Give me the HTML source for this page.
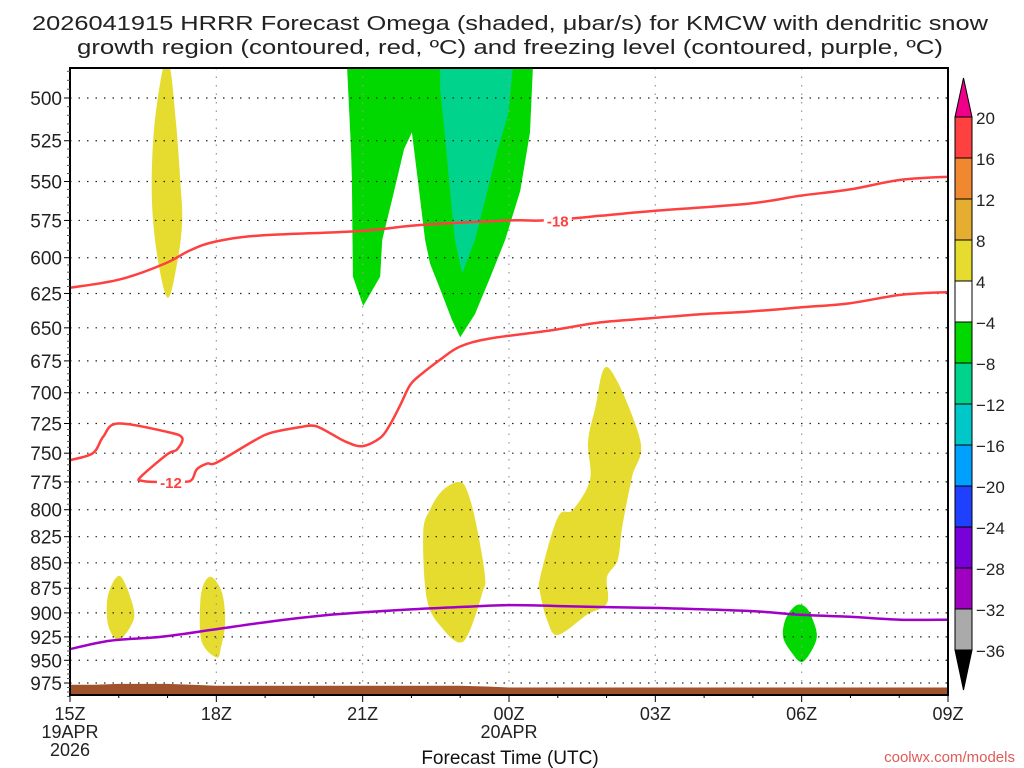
<!DOCTYPE html>
<html><head><meta charset="utf-8"><style>
html,body{margin:0;padding:0;background:#fff;}
svg{display:block;font-family:"Liberation Sans",sans-serif;}
</style></head><body>
<svg id="chart" width="1024" height="768" viewBox="0 0 1024 768">
<rect width="1024" height="768" fill="#fff"/>
<text x="510" y="30" text-anchor="middle" font-size="20" textLength="956" lengthAdjust="spacingAndGlyphs" fill="#222">2026041915 HRRR Forecast Omega (shaded, μbar/s) for KMCW with dendritic snow</text>
<text x="510" y="54" text-anchor="middle" font-size="20" textLength="866" lengthAdjust="spacingAndGlyphs" fill="#222">growth region (contoured, red, ºC) and freezing level (contoured, purple, ºC)</text>
<g id="plot"></g>
<text x="510" y="764" text-anchor="middle" font-size="19" fill="#111">Forecast Time (UTC)</text>
<text x="1015" y="762" text-anchor="end" font-size="15" fill="#e05a5a">coolwx.com/models</text>
<g id="cbar"></g>
</svg>
<script>
// ---- data ----
const pLevels=[500,525,550,575,600,625,650,675,700,725,750,775,800,825,850,875,900,925,950,975];
const xTickHours=[0,3,6,9,12,15,18];
const xTickLabels=["15Z","18Z","21Z","00Z","03Z","06Z","09Z"];
const cbarLabels=["20","16","12","8","4","−4","−8","−12","−16","−20","−24","−28","−32","−36"];
const cbarColors=["#ff4040","#f08830","#e6ae30","#e6dc30","#ffffff","#00d800","#00d48c","#00c8c8","#00a0ff","#2040ff","#7800d8","#a000c0","#aaaaaa"];
const greenBig=[[5.68,483],[5.76,530],[5.78,549],[5.80,613],[6.01,634],[6.36,613],[6.40,588],[6.60,562],[6.85,530],[7.01,520],[7.13,549],[7.28,588],[7.38,604],[7.59,622],[7.83,644],[8.0,657],[8.30,640],[8.61,614],[8.92,588],[9.23,556],[9.43,520],[9.49,483]];
const tealBig=[[7.59,483],[9.08,483],[8.98,510],[8.77,530],[8.51,562],[8.30,588],[8.04,611],[7.89,588],[7.79,556],[7.69,523],[7.59,495]];
const green06=[[14.9,892],[15.1,895],[15.25,910],[15.31,925],[15.2,940],[15.0,952],[14.8,942],[14.62,925],[14.68,905]];
const yellowA=[[1.91,483],[2.05,483],[2.17,513],[2.26,549],[2.30,575],[2.21,601],[2.01,628],[1.80,601],[1.68,562],[1.72,519]];
const yellowB=[[7.99,775],[8.16,785],[8.34,816],[8.51,864],[8.45,880],[8.20,918],[7.99,931],[7.65,917],[7.32,887],[7.24,822],[7.38,800],[7.65,782]];
const yellowC=[[11.03,680],[11.69,739],[11.52,771],[11.32,816],[11.23,847],[11.01,864],[11.01,890],[10.60,902],[10.0,923],[9.78,907],[9.64,880],[9.64,864],[10.0,807],[10.31,800],[10.66,773],[10.62,741],[10.76,714]];
const yellowD=[[1.03,863],[1.31,897],[1.23,915],[0.98,928],[0.78,912],[0.78,882]];
const yellowE=[[2.91,864],[3.12,880],[3.18,910],[3.10,935],[3.01,947],[2.70,930],[2.67,890],[2.75,870]];
const line18=[[0,621],[1.03,615],[1.95,604],[2.46,595],[2.99,589],[3.90,585],[5.95,582],[7.18,578],[9.02,575],[9.74,575],[10.87,572],[11.89,569],[13.94,564],[14.97,559],[15.99,555],[17.02,549],[18,547]];
const line12=[[0,756],[0.47,750],[0.68,736],[0.98,725],[1.99,732],[2.30,737],[2.19,747],[1.99,751],[1.44,771],[1.48,774],[1.70,775],[2.32,775],[2.50,773],[2.60,764],[2.81,759],[3.01,758],[3.75,740],[4.10,733],[4.72,728],[5.02,727],[5.33,733],[5.64,740],[5.99,744],[6.36,737],[6.56,726],[6.77,710],[6.97,694],[7.18,686],[7.59,674],[8.0,664],[8.61,658],[9.84,652],[10.87,646],[11.89,643],[12.92,640],[13.94,638],[14.97,635],[15.99,632],[17.02,626],[18,624]];
const freezeLine=[[0,938],[0.82,929],[1.85,925],[2.99,917],[4.10,909],[5.33,902],[6.77,897],[8.0,894],[9.02,892],[10.05,893],[10.87,894],[12.10,895],[13.94,898],[14.97,902],[15.99,904],[17.02,907],[18,907]];
const sfcHours=[0,0.5,1,1.5,2,2.5,3,4,6,8,8.6,9,12,15,18];
const sfcPres=[977,977,976,976,976,977,978,978,978,978,979,980,980,980,980];

// ---- axes ----
const X0=70,X1=948,Y0=68,Y1=695;
const xs=h=>X0+(X1-X0)*h/18;
const ys=p=>98+876*Math.log(p/500);
const NS="http://www.w3.org/2000/svg";
function mk(tag,attrs,parent){const e=document.createElementNS(NS,tag);for(const k in attrs)e.setAttribute(k,attrs[k]);parent.appendChild(e);return e;}
function smooth(a,closed){const P=a.map(d=>[xs(d[0]),ys(d[1])]);const n=P.length;const t=0.5/3;
const get=i=>closed?P[(i+n)%n]:P[Math.max(0,Math.min(n-1,i))];
let s='M'+P[0][0].toFixed(1)+','+P[0][1].toFixed(1);const m=closed?n:n-1;
for(let i=0;i<m;i++){const p0=get(i-1),p1=get(i),p2=get(i+1),p3=get(i+2);
s+=' C'+(p1[0]+(p2[0]-p0[0])*t).toFixed(1)+','+(p1[1]+(p2[1]-p0[1])*t).toFixed(1)+' '+(p2[0]-(p3[0]-p1[0])*t).toFixed(1)+','+(p2[1]-(p3[1]-p1[1])*t).toFixed(1)+' '+p2[0].toFixed(1)+','+p2[1].toFixed(1);}
return s+(closed?'Z':'');}
const plot=document.getElementById('plot');
const clip=mk('clipPath',{id:'pc'},mk('defs',{},plot));
mk('rect',{x:X0,y:Y0,width:X1-X0,height:Y1-Y0},clip);
const inner=mk('g',{'clip-path':'url(#pc)'},plot);


const pts=a=>a.map(d=>xs(d[0]).toFixed(1)+','+ys(d[1]).toFixed(1)).join(' ');
function poly(a,fill,name,sm){const e=sm?mk('path',{d:smooth(a,true),fill:fill},inner):mk('polygon',{points:pts(a),fill:fill},inner);

}
poly(greenBig,'#00d800','omega-green-region',false);
poly(tealBig,'#00d48c','omega-teal-region',false);
poly(green06,'#00d800','omega-green-06z',true);
poly(yellowA,'#e6dc30','omega-yellow-17z',true);
poly(yellowB,'#e6dc30','omega-yellow-23z',true);
poly(yellowC,'#e6dc30','omega-yellow-02z',true);
poly(yellowD,'#e6dc30','omega-yellow-16z',true);
poly(yellowE,'#e6dc30','omega-yellow-18z',true);
// grid
pLevels.forEach(p=>{const l=mk('line',{x1:X0,x2:X1,y1:ys(p),y2:ys(p),stroke:'#222','stroke-width':1.2,'stroke-dasharray':'1.5 7'},inner);

});
xTickHours.forEach(h=>{const l=mk('line',{x1:xs(h),x2:xs(h),y1:Y0,y2:Y1,stroke:'#999','stroke-width':1.2,'stroke-dasharray':'1.5 7'},inner);

});
// ground
let g='M'+xs(0)+','+Y1;sfcHours.forEach((h,i)=>{g+=' L'+xs(h).toFixed(1)+','+ys(sfcPres[i]).toFixed(1);});g+=' L'+xs(18)+','+Y1+'Z';
const gp=mk('path',{d:g,fill:'#a0522d'},inner);


function pline(a,col,name){const e=mk('path',{d:smooth(a,false),fill:'none',stroke:col,'stroke-width':2.5,'stroke-linejoin':'round'},inner);

}
pline(line18,'#ff4040','contour-minus18');
pline(line12,'#ff4040','contour-minus12');
pline(freezeLine,'#a000c8','freezing-level-line');
function clab(h,p,t,name){mk('rect',{x:xs(h)-14,y:ys(p)-8,width:28,height:15,fill:'#fff'},inner);
const e=mk('text',{x:xs(h),y:ys(p)+6,'text-anchor':'middle','font-size':15,'font-weight':'bold',fill:'#ff4040'},inner);e.textContent=t;

}
clab(10.0,575,'-18','contour-label-minus18');
clab(2.07,775,'-12','contour-label-minus12');
// frame
const fr=mk('rect',{x:X0,y:Y0,width:X1-X0,height:Y1-Y0,fill:'none',stroke:'#000','stroke-width':2},plot);


// y ticks & labels
pLevels.forEach(p=>{mk('line',{x1:X0-6,x2:X0,y1:ys(p),y2:ys(p),stroke:'#000','stroke-width':1},plot);
const t=mk('text',{x:X0-8,y:ys(p)+7,'text-anchor':'end','font-size':19,fill:'#222'},plot);t.textContent=p;

});
for(let p=485;p<=990;p+=5){if(p%25){mk('line',{x1:X0-3,x2:X0,y1:ys(p),y2:ys(p),stroke:'#555','stroke-width':1},plot);}}
for(let h=0;h<=18;h++){mk('line',{x1:xs(h),x2:xs(h),y1:Y1,y2:Y1+(h%3?3:7),stroke:'#000','stroke-width':1},plot);}
xTickHours.forEach((h,i)=>{const t=mk('text',{x:xs(h),y:720,'text-anchor':'middle','font-size':18,fill:'#222'},plot);t.textContent=xTickLabels[i];

});
[['19APR',0,738],['2026',0,756],['20APR',9,738]].forEach(d=>{const t=mk('text',{x:xs(d[1]),y:d[2],'text-anchor':'middle','font-size':18,fill:'#222'},plot);t.textContent=d[0];

});
// colorbar
const cb=document.getElementById('cbar');const CX=955,CW=17,CT=117,CH=41;
const tt=mk('polygon',{points:`${CX},${CT} ${CX+CW},${CT} ${CX+CW/2},78`,fill:'#f0008a',stroke:'#000','stroke-width':1},cb);


cbarColors.forEach((c,i)=>{const r=mk('rect',{x:CX,y:CT+i*CH,width:CW,height:CH,fill:c,stroke:'#000','stroke-width':1},cb);

});
const bt=mk('polygon',{points:`${CX},${CT+13*CH} ${CX+CW},${CT+13*CH} ${CX+CW/2},${CT+13*CH+40}`,fill:'#000',stroke:'#000','stroke-width':1},cb);


cbarLabels.forEach((l,i)=>{const t=mk('text',{x:976,y:CT+i*CH+7,'font-size':17,fill:'#222'},cb);t.textContent=l;

});
</script>
</body></html>
